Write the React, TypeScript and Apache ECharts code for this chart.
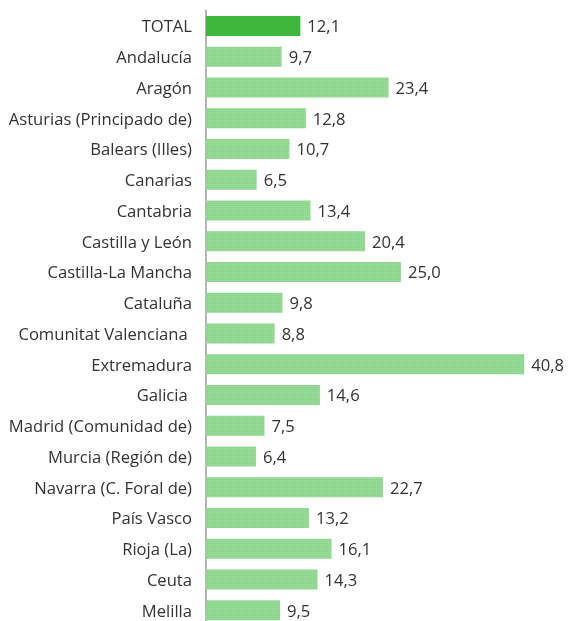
import React, { useEffect, useRef } from "react";
import * as echarts from "echarts";

const categories = [
  "TOTAL",
  "Andalucía",
  "Aragón",
  "Asturias (Principado de)",
  "Balears (Illes)",
  "Canarias",
  "Cantabria",
  "Castilla y León",
  "Castilla-La Mancha",
  "Cataluña",
  "Comunitat Valenciana ",
  "Extremadura",
  "Galicia ",
  "Madrid (Comunidad de)",
  "Murcia (Región de)",
  "Navarra (C. Foral de)",
  "País Vasco",
  "Rioja (La)",
  "Ceuta",
  "Melilla",
];

const values = [12.1, 9.7, 23.4, 12.8, 10.7, 6.5, 13.4, 20.4, 25.0, 9.8, 8.8, 40.8, 14.6, 7.5, 6.4, 22.7, 13.2, 16.1, 14.3, 9.5];

export default function App() {
  const ref = useRef<HTMLDivElement>(null);
  useEffect(() => {
    if (!ref.current) return;
    const chart = echarts.init(ref.current, undefined, { renderer: "svg" });
    const decal = {
      symbol: "rect",
      symbolSize: 1,
      dashArrayX: [1, 1],
      dashArrayY: [1, 1],
      color: "rgba(255,255,255,0.18)",
    };
    chart.setOption({
      animation: false,
      grid: { left: 206, width: 365, top: 10.5, height: 615, containLabel: false },
      xAxis: {
        type: "value",
        min: 0,
        max: 46.8,
        show: false,
      },
      yAxis: {
        type: "category",
        data: categories,
        inverse: true,
        axisLine: { show: true, lineStyle: { color: "#b5b5b5", width: 2 } },
        axisTick: { show: false },
        axisLabel: {
          color: "#333333",
          fontSize: 16.6,
          fontFamily: "Open Sans",
          margin: 14,
        },
      },
      series: [
        {
          type: "bar",
          barWidth: 20,
          data: values.map((v, i) => ({
            value: v,
            itemStyle:
              i === 0
                ? { color: "#3db83d" }
                : { color: "#8dd68d", decal },
          })),
          label: {
            show: true,
            position: "right",
            distance: 7,
            color: "#333333",
            fontSize: 16.6,
            fontFamily: "Open Sans",
            formatter: (p: any) => p.value.toFixed(1).replace(".", ","),
          },
        },
      ],
    });
    return () => chart.dispose();
  }, []);
  return (
    <div
      ref={ref}
      style={{ position: "fixed", left: 0, top: 0, width: 571, height: 640 }}
    />
  );
}
